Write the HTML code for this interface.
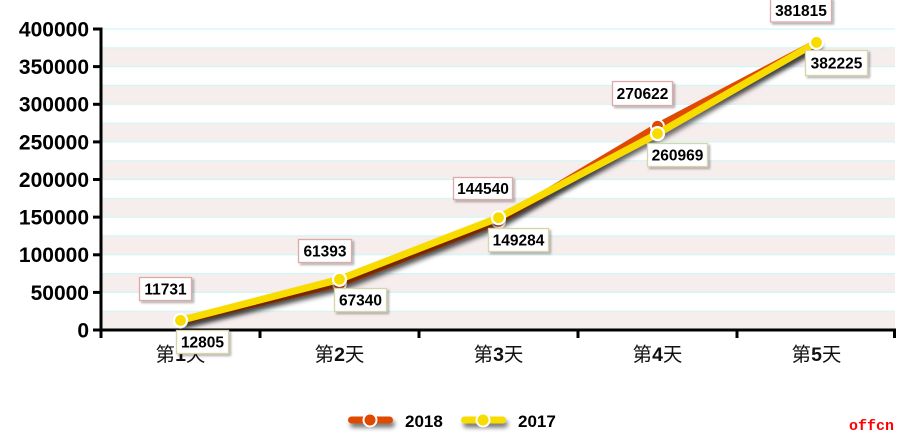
<!DOCTYPE html>
<html><head><meta charset="utf-8"><style>
html,body{margin:0;padding:0;background:#fff;}
svg{display:block;}
.yl{font-family:"Liberation Sans",Arial,sans-serif;font-weight:bold;font-size:21px;fill:#000;}
.xl{font-family:"Liberation Sans","Noto Sans CJK SC",sans-serif;font-size:19.5px;fill:#111;}
.dl{font-family:"Liberation Sans",Arial,sans-serif;font-weight:bold;font-size:15.5px;fill:#000;}
.lg{font-family:"Liberation Sans",Arial,sans-serif;font-weight:bold;font-size:17px;fill:#000;}
</style></head><body>
<svg width="917" height="438" viewBox="0 0 917 438" xmlns="http://www.w3.org/2000/svg">
<defs>
<filter id="sh" filterUnits="userSpaceOnUse" x="0" y="0" width="917" height="438">
<feDropShadow dx="2" dy="4" stdDeviation="2.5" flood-color="#000" flood-opacity="0.55"/>
</filter>
<filter id="bs" filterUnits="userSpaceOnUse" x="0" y="0" width="917" height="438">
<feDropShadow dx="2" dy="2" stdDeviation="1" flood-color="#000" flood-opacity="0.3"/>
</filter>
</defs>
<!-- bands -->
<g fill="#f6eded">
<rect x="101" y="311.2" width="794" height="18.8"/>
<rect x="101" y="273.6" width="794" height="18.8"/>
<rect x="101" y="235.9" width="794" height="18.8"/>
<rect x="101" y="198.3" width="794" height="18.8"/>
<rect x="101" y="160.7" width="794" height="18.8"/>
<rect x="101" y="123.1" width="794" height="18.8"/>
<rect x="101" y="85.4" width="794" height="18.8"/>
<rect x="101" y="47.8" width="794" height="18.8"/>
</g>
<g stroke="#d2f6f6" stroke-width="1.2">
<line x1="101" x2="895" y1="29" y2="29"/>
<line x1="101" x2="895" y1="47.8" y2="47.8"/>
<line x1="101" x2="895" y1="66.6" y2="66.6"/>
<line x1="101" x2="895" y1="85.4" y2="85.4"/>
<line x1="101" x2="895" y1="104.3" y2="104.3"/>
<line x1="101" x2="895" y1="123.1" y2="123.1"/>
<line x1="101" x2="895" y1="141.9" y2="141.9"/>
<line x1="101" x2="895" y1="160.7" y2="160.7"/>
<line x1="101" x2="895" y1="179.5" y2="179.5"/>
<line x1="101" x2="895" y1="198.3" y2="198.3"/>
<line x1="101" x2="895" y1="217.1" y2="217.1"/>
<line x1="101" x2="895" y1="235.9" y2="235.9"/>
<line x1="101" x2="895" y1="254.8" y2="254.8"/>
<line x1="101" x2="895" y1="273.6" y2="273.6"/>
<line x1="101" x2="895" y1="292.4" y2="292.4"/>
<line x1="101" x2="895" y1="311.2" y2="311.2"/>
</g>
<!-- axes -->
<g stroke="#000" stroke-width="3" fill="none">
<line x1="101" y1="27.5" x2="101" y2="331.5"/>
<line x1="99.5" y1="330" x2="896" y2="330"/>
<line x1="93" x2="101" y1="29" y2="29"/>
<line x1="93" x2="101" y1="66.6" y2="66.6"/>
<line x1="93" x2="101" y1="104.3" y2="104.3"/>
<line x1="93" x2="101" y1="141.9" y2="141.9"/>
<line x1="93" x2="101" y1="179.5" y2="179.5"/>
<line x1="93" x2="101" y1="217.1" y2="217.1"/>
<line x1="93" x2="101" y1="254.8" y2="254.8"/>
<line x1="93" x2="101" y1="292.4" y2="292.4"/>
<line x1="93" x2="101" y1="330" y2="330"/>
<line x1="101" x2="101" y1="330" y2="338"/>
<line x1="260" x2="260" y1="330" y2="338"/>
<line x1="419" x2="419" y1="330" y2="338"/>
<line x1="578" x2="578" y1="330" y2="338"/>
<line x1="737" x2="737" y1="330" y2="338"/>
<line x1="894.5" x2="894.5" y1="330" y2="338"/>
</g>
<g class="yl" text-anchor="end">
<text x="89" y="36.5">400000</text>
<text x="89" y="74">350000</text>
<text x="89" y="111.7">300000</text>
<text x="89" y="149.3">250000</text>
<text x="89" y="187">200000</text>
<text x="89" y="224.6">150000</text>
<text x="89" y="262.2">100000</text>
<text x="89" y="299.8">50000</text>
<text x="89" y="337.5">0</text>
</g>
<g class="xl" text-anchor="middle">
<text x="180.5" y="361">第<tspan font-weight="bold">1</tspan>天</text>
<text x="339.5" y="361">第<tspan font-weight="bold">2</tspan>天</text>
<text x="498.5" y="361">第<tspan font-weight="bold">3</tspan>天</text>
<text x="657.5" y="361">第<tspan font-weight="bold">4</tspan>天</text>
<text x="816.5" y="361">第<tspan font-weight="bold">5</tspan>天</text>
</g>
<!-- series -->
<g filter="url(#sh)">
<polyline points="180.5,321.2 339.5,283.8 498.5,221.2 657.5,126.4 816.5,42.7" fill="none" stroke="#e04800" stroke-width="7" stroke-linejoin="round" stroke-linecap="round"/>
</g>
<g fill="#e04800" stroke="#fff" stroke-width="2">
<circle cx="180.5" cy="321.2" r="6.5"/>
<circle cx="339.5" cy="283.8" r="6.5"/>
<circle cx="498.5" cy="221.2" r="6.5"/>
<circle cx="657.5" cy="126.4" r="6.5"/>
<circle cx="816.5" cy="42.7" r="6.5"/>
</g>
<g filter="url(#sh)">
<polyline points="180.5,320.4 339.5,279.3 498.5,217.7 657.5,133.6 816.5,42.4" fill="none" stroke="#f8dc00" stroke-width="7" stroke-linejoin="round" stroke-linecap="round"/>
</g>
<g fill="#f8dc00" stroke="#fff" stroke-width="2.2">
<circle cx="180.5" cy="320.4" r="6.5"/>
<circle cx="339.5" cy="279.3" r="6.5"/>
<circle cx="498.5" cy="217.7" r="6.5"/>
<circle cx="657.5" cy="133.6" r="6.5"/>
<circle cx="816.5" cy="42.4" r="6.5"/>
</g>
<!-- data labels 2018 -->
<g fill="#fff" stroke="#dcaaaa" stroke-width="1.3" filter="url(#bs)">
<rect x="139.5" y="277.5" width="52" height="23"/>
<rect x="298.5" y="239.5" width="53" height="23"/>
<rect x="453.5" y="177.5" width="59" height="22"/>
<rect x="612.5" y="81.5" width="60" height="24"/>
<rect x="770.5" y="-2" width="61" height="24"/>
</g>
<!-- data labels 2017 -->
<g fill="#fff" stroke="#d8d4aa" stroke-width="1.3" filter="url(#bs)">
<rect x="176.5" y="330.5" width="52" height="23"/>
<rect x="334.5" y="288.5" width="52" height="23"/>
<rect x="488.5" y="228.5" width="60" height="23"/>
<rect x="647.5" y="143.5" width="60" height="23"/>
<rect x="805.5" y="50.5" width="62" height="25"/>
</g>
<g class="dl" text-anchor="middle">
<text x="165.5" y="294.5">11731</text>
<text x="325" y="256.5">61393</text>
<text x="483" y="194">144540</text>
<text x="642.5" y="99">270622</text>
<text x="801" y="16">381815</text>
<text x="202.5" y="347.5">12805</text>
<text x="360.5" y="305.5">67340</text>
<text x="518.5" y="245.5">149284</text>
<text x="677.5" y="160.5">260969</text>
<text x="836.5" y="68.5">382225</text>
</g>
<!-- legend -->
<g filter="url(#sh)">
<rect x="348" y="416.5" width="45" height="7" rx="3.5" fill="#e04800"/>
<rect x="461" y="416.5" width="45" height="7" rx="3.5" fill="#f8dc00"/>
</g>
<circle cx="370" cy="420" r="6.5" fill="#e04800" stroke="#fff" stroke-width="2"/>
<circle cx="483" cy="420" r="6.5" fill="#f8dc00" stroke="#fff" stroke-width="2"/>
<text class="lg" x="405" y="427">2018</text>
<text class="lg" x="518" y="427">2017</text>
<text x="849" y="430" font-family="Liberation Mono,monospace" font-size="15" font-weight="bold" fill="#ff0000">offcn</text>
</svg>
</body></html>
